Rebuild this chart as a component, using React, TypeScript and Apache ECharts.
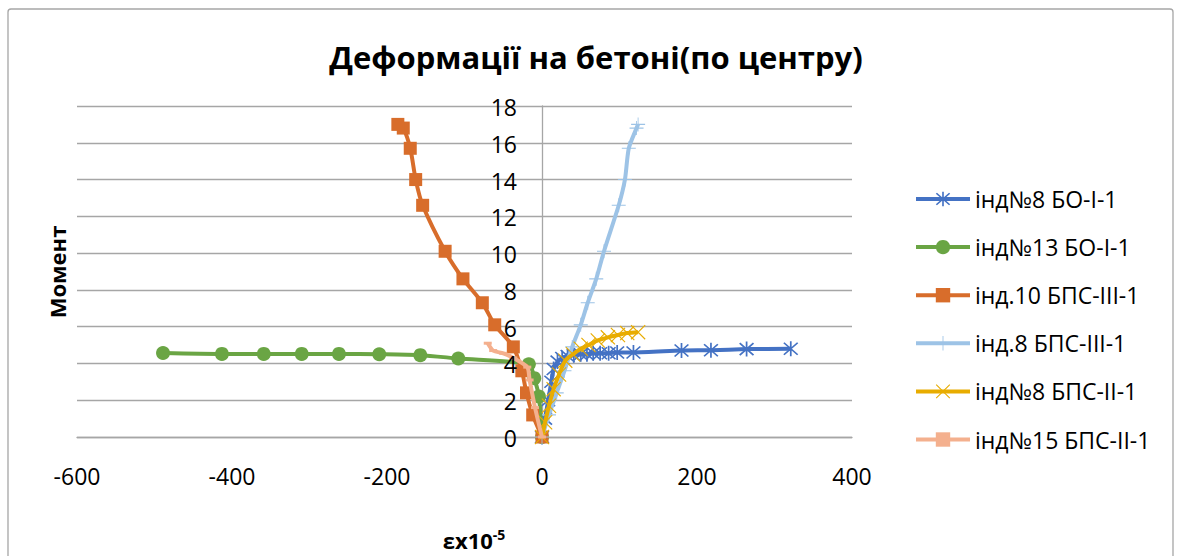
import React, { useEffect, useRef } from "react";
import * as echarts from "echarts";

const FONT = '"Open Sans", "Noto Sans", sans-serif';

const TITLE = "Деформації на бетоні(по центру)";
const Y_NAME = "Момент";
const X_NAME_BASE = "εx10";
const X_NAME_SUP = "-5";

const seriesNames = [
  "інд№8 БО-І-1",
  "інд№13 БО-І-1",
  "інд.10 БПС-ІІІ-1",
  "інд.8 БПС-ІІІ-1",
  "інд№8 БПС-ІІ-1",
  "інд№15 БПС-ІІ-1",
];
const colors = ["#4472C4", "#6AA544", "#D86D2B", "#9DC3E6", "#E8AC00", "#F4B08E"];

// інд№8 БО-І-1
const blueX = [0, 4, 8, 12, 15, 20, 26, 33, 41, 50, 58, 66, 75, 86, 97, 118, 180, 218, 264, 321];
const blueY = [0, 1.0, 2.0, 3.0, 3.7, 4.1, 4.3, 4.4, 4.45, 4.5, 4.5, 4.55, 4.55, 4.55, 4.6, 4.6, 4.7, 4.72, 4.78, 4.8];
// інд№13 БО-І-1
const greenX = [-489, -413, -359, -310, -262, -210, -157, -108, -17, -10, -4, 0];
const greenY = [4.57, 4.52, 4.52, 4.52, 4.52, 4.5, 4.45, 4.27, 3.95, 3.2, 2.2, 0];
// інд.10 БПС-ІІІ-1
const orangeX = [0, -12, -20, -26, -37, -61, -77, -102, -125, -154, -163, -170, -179, -186];
const orangeY = [0, 1.2, 2.4, 3.6, 4.9, 6.1, 7.3, 8.6, 10.1, 12.6, 14.0, 15.7, 16.8, 17.0];
// інд.8 БПС-ІІІ-1
const lightX = [0, 9, 19, 29, 39, 50, 59, 70, 80, 99, 107, 112, 122, 124];
const lightY = [0, 1.2, 2.4, 3.6, 4.9, 6.1, 7.3, 8.6, 10.1, 12.6, 14.0, 15.7, 16.8, 17.0];
// інд№8 БПС-ІІ-1
const goldX = [0, 4, 9, 15, 22, 30, 40, 50, 60, 72, 85, 98, 110, 124];
const goldY = [0, 0.8, 1.7, 2.6, 3.4, 4.15, 4.5, 4.8, 5.0, 5.25, 5.42, 5.55, 5.65, 5.7];
// інд№15 БПС-ІІ-1
const pinkX = [-70, -63, -50, -37, -19, -16, -9, 0];
const pinkY = [5.1, 4.7, 4.55, 4.3, 3.8, 3.1, 1.6, 0];

const xTicks = { min: -600, max: 400, interval: 200 };
const yTicks = { min: 0, max: 18, interval: 2 };
const yTickLabels = [0, 2, 4, 6, 8, 10, 12, 14, 16, 18];

const ASTERISK =
  "path://M9,0L11,0L11,20L9,20Z M1.3,2.7L2.7,1.3L18.7,17.3L17.3,18.7Z M17.3,1.3L18.7,2.7L2.7,18.7L1.3,17.3Z";
const XMARK = "path://M0.8,1.8L1.8,0.8L19.2,18.2L18.2,19.2Z M18.2,0.8L19.2,1.8L1.8,19.2L0.8,18.2Z";
const PLUS = "path://M0,9.2L20,9.2L20,10.8L0,10.8Z M9.4,0L10.6,0L10.6,20L9.4,20Z";
const DASH = "path://M0,0L10,0L10,3L0,3Z";

const zip = (xs: number[], ys: number[]) => xs.map((x, i) => [x, ys[i]]);

export default function App() {
  const ref = useRef<HTMLDivElement>(null);
  useEffect(() => {
    if (!ref.current) return;
    const chart = echarts.init(ref.current, undefined, { renderer: "svg" });
    const datasets = [
      zip(blueX, blueY),
      zip(greenX, greenY),
      zip(orangeX, orangeY),
      zip(lightX, lightY),
      zip(goldX, goldY),
      zip(pinkX, pinkY),
    ];
    const symbols = [ASTERISK, "circle", "rect", PLUS, XMARK, DASH];
    const sizes: any[] = [15, 14, 13, [14, 14], 15, [8, 3]];
    const series = datasets.map((d, i) => ({
      name: seriesNames[i],
      type: "line",
      data: d,
      smooth: 0.25,
      symbol: symbols[i],
      symbolSize: sizes[i],
      showAllSymbol: true,
      lineStyle: { color: colors[i], width: 4 },
      itemStyle: { color: colors[i], borderWidth: 0 },
      emphasis: { disabled: true },
      z: 2 + i,
    }));
    const legends = seriesNames.map((n, i) => ({
      data: [n],
      left: 914,
      top: 199 + i * 48.1 - 12,
      padding: 0,
      orient: "vertical",
      itemWidth: 54,
      itemHeight: 18,
      itemGap: 4,
      lineStyle: { width: 4 },
      textStyle: { fontSize: 23, fontFamily: FONT, color: "#000", lineHeight: 24 },
      selectedMode: false,
    }));
    const baseGraphic: any[] = [
      {
        type: "rect",
        shape: { x: 8, y: 9, width: 1165, height: 570, r: 3 },
        style: { fill: "none", stroke: "#A6A6A6", lineWidth: 1.3 },
        silent: true,
        z: -10,
      },
      {
        type: "text",
        x: 596,
        y: 57,
        style: {
          text: TITLE,
          fontSize: 31,
          fontWeight: "bold",
          fontFamily: FONT,
          fill: "#000",
          align: "center",
          verticalAlign: "middle",
        },
      },
      {
        type: "text",
        x: 57,
        y: 272,
        rotation: Math.PI / 2,
        style: {
          text: Y_NAME,
          fontSize: 22,
          fontWeight: "bold",
          fontFamily: FONT,
          fill: "#000",
          align: "center",
          verticalAlign: "middle",
        },
      },
      {
        type: "text",
        x: 474,
        y: 540,
        style: {
          text: "{a|" + X_NAME_BASE + "}{b|" + X_NAME_SUP + "}",
          align: "center",
          verticalAlign: "middle",
          rich: {
            a: { fontSize: 22, fontWeight: "bold", fontFamily: FONT, fill: "#000", color: "#000" },
            b: {
              fontSize: 14,
              fontWeight: "bold",
              fontFamily: FONT,
              fill: "#000",
              color: "#000",
              verticalAlign: "top",
              padding: [0, 0, 12, 0],
            },
          },
        },
      },
    ];
    chart.setOption({
      animation: false,
      textStyle: { fontFamily: FONT },
      grid: { left: 77, right: 328, top: 106, bottom: 119, containLabel: false },
      xAxis: {
        type: "value",
        min: xTicks.min,
        max: xTicks.max,
        interval: xTicks.interval,
        axisLine: { show: true, lineStyle: { color: "#A6A6A6", width: 1.3 } },
        axisTick: { show: false },
        splitLine: { show: false },
        axisLabel: { fontSize: 23, color: "#000", margin: 27, fontFamily: FONT },
      },
      yAxis: {
        type: "value",
        min: yTicks.min,
        max: yTicks.max,
        interval: yTicks.interval,
        axisLine: { show: true, onZero: true, lineStyle: { color: "#A6A6A6", width: 1.3 } },
        axisTick: { show: false },
        splitLine: { show: true, lineStyle: { color: "#A6A6A6", width: 1.3 } },
        axisLabel: { show: false },
      },
      legend: legends,
      series,
      graphic: baseGraphic,
    });
    const yLabelGraphics = yTickLabels.map((v) => {
      const p = chart.convertToPixel({ xAxisIndex: 0, yAxisIndex: 0 }, [0, v]) as number[];
      return {
        type: "text",
        x: p[0] - 25,
        y: p[1] + 1,
        z: 100,
        style: {
          text: String(v),
          fontSize: 23,
          fontFamily: FONT,
          fill: "#000",
          align: "right",
          verticalAlign: "middle",
        },
      };
    });
    chart.setOption({ graphic: [...baseGraphic, ...yLabelGraphics] });
    return () => chart.dispose();
  }, []);
  return (
    <div
      ref={ref}
      style={{ position: "fixed", left: 0, top: 0, width: 1180, height: 556, background: "#fff" }}
    />
  );
}
